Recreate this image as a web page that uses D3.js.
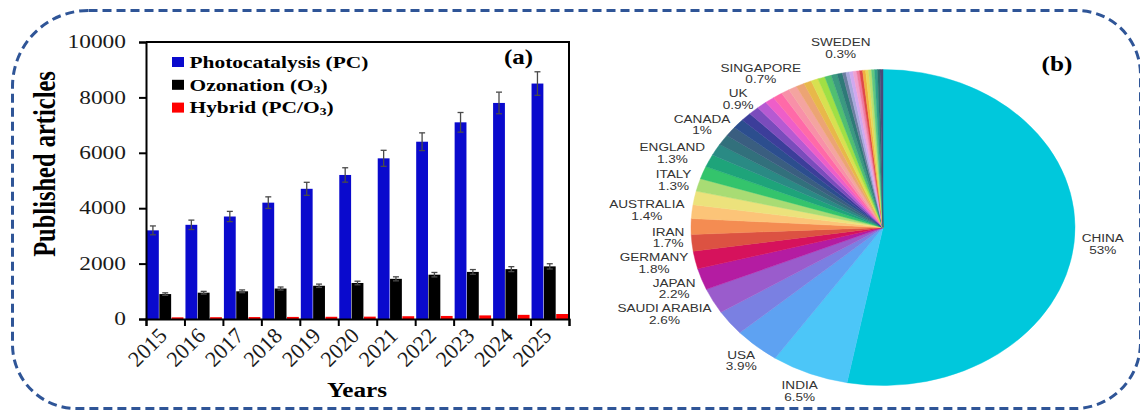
<!DOCTYPE html>
<html>
<head>
<meta charset="utf-8">
<script src="https://cdn.jsdelivr.net/npm/d3@7"></script>
<style>
  html, body { margin: 0; padding: 0; background: #fff; }
  svg { display: block; }
</style>
</head>
<body>
<svg id="chart" width="1140" height="412"></svg>
<script>
// ---------- (a) published articles per year ----------
const years = ["2015", "2016", "2017", "2018", "2019", "2020", "2021", "2022", "2023", "2024", "2025"];
const photocatalysis    = [3200, 3400, 3700, 4200, 4700, 5200, 5800, 6400, 7100, 7800, 8500];
const photocatalysisErr = [160, 170, 185, 210, 235, 260, 290, 320, 355, 390, 425];
const ozonation         = [900, 950, 1000, 1100, 1200, 1300, 1450, 1600, 1700, 1800, 1900];
const ozonationErr      = [45, 48, 50, 55, 60, 65, 73, 80, 85, 90, 95];
const hybrid            = [60, 65, 70, 75, 80, 85, 100, 110, 130, 150, 180];
const seriesLabels = ["Photocatalysis (PC)", "Ozonation (O₃)", "Hybrid (PC/O₃)"];
const yTicks = [0, 2000, 4000, 6000, 8000, 10000];

// ---------- (b) share of articles by country ----------
const countries = [
  "CHINA", "INDIA", "USA", "", "SAUDI ARABIA", "JAPAN", "GERMANY", "IRAN",
  "", "AUSTRALIA", "", "ITALY", "", "ENGLAND", "", "", "CANADA",
  "", "", "UK", "", "", "", "SINGAPORE",
  "", "", "", "", "", "", "", "", "",
  "SWEDEN",
  "", "", "", "", "", "", "", "", "", "", ""
];
const shares = [
  53, 6.5, 3.9, 2.6, 2.6, 2.2, 1.8, 1.7,
  1.6, 1.4, 1.4, 1.3, 1.3, 1.3, 1.2, 1.1, 1.0,
  1.0, 0.9, 0.9, 0.85, 0.8, 0.8, 0.7,
  0.7, 0.7, 0.65, 0.6, 0.6, 0.55, 0.5, 0.45, 0.3,
  0.3,
  0.3, 0.3, 0.25, 0.25, 0.25, 0.25, 0.25, 0.25, 0.25, 0.2, 0.25
];
const sliceColors = [
  "#00c8dc", "#4cc6f8", "#5ea2f2", "#7a80e2", "#9a5ccc", "#b41ca2", "#d6125c", "#dc5242",
  "#f48c52", "#fcc478", "#ece27c", "#a8dc74", "#34c46c", "#1ea47a", "#2a8a84", "#32707c", "#3a5e80",
  "#2c4e8e", "#3c3e9a", "#7a4cbc", "#b65ad2", "#ee5ec8", "#ff6aa8", "#f890a8",
  "#f4a4a0", "#eca474", "#e8b84a", "#d8e050", "#a0e044", "#50c070", "#3a9a80", "#2e7a78", "#6a7ea0",
  "#a8a8dc",
  "#d0a8f0", "#f0a0d0", "#f07aa0", "#e04848", "#f0b040", "#e8d858", "#b8e070", "#60c880", "#30a088", "#2a7070", "#4a4a78"
];

const seriesColors = ["#0a0acd", "#000000", "#ff0000"];
const serif = "'Liberation Serif', 'Times New Roman', serif";
const sans = "'Liberation Sans', Arial, sans-serif";

const svg = d3.select("#chart");
svg.append("rect").attr("width", 1140).attr("height", 412).attr("fill", "#fff");

// ---------- dashed rounded frame ----------
function roundedFrame(x, y, w, h, tl, tr, br, bl) {
  const p = d3.path();
  p.moveTo(x + tl, y);
  p.lineTo(x + w - tr, y);
  p.arcTo(x + w, y, x + w, y + tr, tr);
  p.lineTo(x + w, y + h - br);
  p.arcTo(x + w, y + h, x + w - br, y + h, br);
  p.lineTo(x + bl, y + h);
  p.arcTo(x, y + h, x, y + h - bl, bl);
  p.lineTo(x, y + tl);
  p.arcTo(x, y, x + tl, y, tl);
  p.closePath();
  return p.toString();
}
svg.append("path")
  .attr("d", roundedFrame(12.5, 10.5, 1128, 398, 76, 64, 66, 64))
  .attr("fill", "none")
  .attr("stroke", "#2f5597")
  .attr("stroke-width", 3)
  .attr("stroke-dasharray", "9,5");

// ---------- bar chart ----------
const plot = { left: 146, right: 569, top: 42, bottom: 319 };
const x0 = d3.scaleBand().domain(years).range([plot.left, plot.right]).padding(0);
const x1 = d3.scaleBand().domain([0, 1, 2]).range([1, x0.bandwidth() - 1]).paddingInner(0.04);
const y = d3.scaleLinear().domain([0, 10000]).range([plot.bottom, plot.top]);
const xEdge = d3.scaleLinear().domain([0, years.length]).range([plot.left, plot.right]);

const bars = svg.append("g");
const seriesData = [
  { values: photocatalysis, err: photocatalysisErr },
  { values: ozonation, err: ozonationErr },
  { values: hybrid, err: null }
];
seriesData.forEach((s, si) => {
  bars.selectAll(null)
    .data(years.map((yr, i) => ({ yr, v: s.values[i] })))
    .join("rect")
    .attr("x", d => x0(d.yr) + x1(si))
    .attr("y", d => y(d.v))
    .attr("width", x1.bandwidth())
    .attr("height", d => y(0) - y(d.v))
    .attr("fill", seriesColors[si]);
});

// error bars
const errG = svg.append("g").attr("stroke", "#4a4a4a").attr("stroke-width", 1.3);
seriesData.forEach((s, si) => {
  if (!s.err) return;
  years.forEach((yr, i) => {
    const cx = x0(yr) + x1(si) + x1.bandwidth() / 2;
    const top = y(s.values[i] + s.err[i]);
    const bot = y(s.values[i] - s.err[i]);
    errG.append("line").attr("x1", cx).attr("x2", cx).attr("y1", top).attr("y2", bot);
    errG.append("line").attr("x1", cx - 3).attr("x2", cx + 3).attr("y1", top).attr("y2", top);
    errG.append("line").attr("x1", cx - 3).attr("x2", cx + 3).attr("y1", bot).attr("y2", bot);
  });
});

// frame lines (top and right)
svg.append("path")
  .attr("d", `M${plot.left},${plot.top}H${plot.right}V${plot.bottom}`)
  .attr("fill", "none").attr("stroke", "#000").attr("stroke-width", 2);

// axes
const yAxis = svg.append("g")
  .attr("transform", `translate(${plot.left},0)`)
  .call(d3.axisLeft(y).tickValues(yTicks).tickSize(7).tickFormat(""));
const xAxis = svg.append("g")
  .attr("transform", `translate(0,${plot.bottom})`)
  .call(d3.axisBottom(xEdge).tickValues(d3.range(years.length + 1)).tickSize(7).tickFormat(""));
[yAxis, xAxis].forEach(a => {
  a.select(".domain").attr("stroke", "#000").attr("stroke-width", 2);
  a.selectAll(".tick line").attr("stroke", "#000").attr("stroke-width", 2);
});

// y tick labels
svg.append("g").selectAll("text")
  .data(yTicks)
  .join("text")
  .attr("transform", d => `translate(126,${y(d)}) scale(1.3,1)`)
  .attr("text-anchor", "end")
  .attr("dy", "0.34em")
  .attr("font-family", serif)
  .attr("font-size", 18)
  .attr("fill", "#1a1a1a")
  .text(d => d);

// x tick labels
svg.append("g").selectAll("text")
  .data(years)
  .join("text")
  .attr("transform", d => `translate(${x0(d) + x0.bandwidth() / 2 + 3},337) rotate(-45)`)
  .attr("text-anchor", "end")
  .attr("font-family", serif)
  .attr("font-size", 22)
  .attr("fill", "#1a1a1a")
  .text(d => d);

// axis titles
svg.append("text")
  .attr("transform", "translate(55,164) scale(1.29,1) rotate(-90)")
  .attr("text-anchor", "middle")
  .attr("font-family", serif)
  .attr("font-weight", "bold")
  .attr("font-size", 24.5)
  .attr("fill", "#000")
  .text("Published articles");

svg.append("text")
  .attr("transform", "translate(357,397) scale(1.2,1)")
  .attr("text-anchor", "middle")
  .attr("font-family", serif)
  .attr("font-weight", "bold")
  .attr("font-size", 21)
  .attr("fill", "#000")
  .text("Years");

svg.append("text")
  .attr("transform", "translate(518.5,64) scale(1.25,1)")
  .attr("text-anchor", "middle")
  .attr("font-family", serif)
  .attr("font-weight", "bold")
  .attr("font-size", 20)
  .attr("fill", "#000")
  .text("(a)");

// legend
const legend = svg.append("g");
seriesLabels.forEach((lab, i) => {
  const ry = 57 + i * 22.8;
  legend.append("rect")
    .attr("x", 172).attr("y", ry).attr("width", 12).attr("height", 10)
    .attr("fill", seriesColors[i]);
  const t = legend.append("text")
    .attr("transform", `translate(189.5,${ry + 10.8}) scale(1.29,1)`)
    .attr("font-family", serif)
    .attr("font-weight", "bold")
    .attr("font-size", 16.6)
    .attr("fill", "#000");
  const parts = lab.split("₃");
  parts.forEach((part, pi) => {
    t.append("tspan").text(part).attr("dy", pi > 0 ? -2 : null);
    if (pi < parts.length - 1) {
      t.append("tspan").text("3").attr("font-size", 10.5).attr("dy", 2);
    }
  });
});

// ---------- pie chart ----------
const pieCx = 883, pieCy = 227.5, R = 158, sx = 192 / 158;
const pieData = countries.map((c, i) => ({ name: c, v: shares[i], color: sliceColors[i] }));
const arcs = d3.pie().sort(null).value(d => d.v).startAngle(0).endAngle(2 * Math.PI)(pieData);
const arcGen = d3.arc().innerRadius(0).outerRadius(R);

svg.append("g")
  .attr("transform", `translate(${pieCx},${pieCy}) scale(${sx},1)`)
  .selectAll("path")
  .data(arcs)
  .join("path")
  .attr("d", arcGen)
  .attr("fill", d => d.data.color)
  .attr("stroke", d => d.data.color)
  .attr("stroke-width", 0.4);

// slice labels, placed just outside the rim at each slice's mid-angle
const labelScale = 1.18;
const labelG = svg.append("g");
const placed = [];
arcs.filter(d => d.data.name).forEach(d => {
  const mid = (d.startAngle + d.endAngle) / 2;
  const s = Math.sin(mid), c = Math.cos(mid);
  const px = pieCx + sx * R * 1.04 * s;
  const py = pieCy - R * 1.04 * c;
  const t = labelG.append("text")
    .attr("font-family", sans)
    .attr("font-size", 11.5)
    .attr("fill", "#333")
    .attr("text-anchor", "middle");
  const l1 = t.append("tspan").attr("x", 0).attr("y", -2).text(d.data.name);
  const l2 = t.append("tspan").attr("x", 0).attr("y", 9.8).text(d.data.v + "%");
  const w = Math.max(l1.node().getComputedTextLength(), l2.node().getComputedTextLength()) * labelScale;
  const h = 25;
  placed.push({ t, x: px + s * w / 2, y: py - c * h / 2, left: s < 0 });
});

// relax vertically crowded labels on the left side
const leftLabels = placed.filter(p => p.left).sort((a, b) => a.y - b.y);
const minGap = 25.5;
for (let iter = 0; iter < 40; iter++) {
  for (let i = 1; i < leftLabels.length; i++) {
    const a = leftLabels[i - 1], b = leftLabels[i];
    const gap = b.y - a.y;
    if (gap < minGap) {
      const push = (minGap - gap) / 2;
      a.y -= push;
      b.y += push;
    }
  }
}
placed.forEach(p => p.t.attr("transform", `translate(${p.x},${p.y}) scale(${labelScale},1)`));

svg.append("text")
  .attr("transform", "translate(1057,71) scale(1.2,1)")
  .attr("text-anchor", "middle")
  .attr("font-family", serif)
  .attr("font-weight", "bold")
  .attr("font-size", 21)
  .attr("fill", "#000")
  .text("(b)");
</script>
</body>
</html>
